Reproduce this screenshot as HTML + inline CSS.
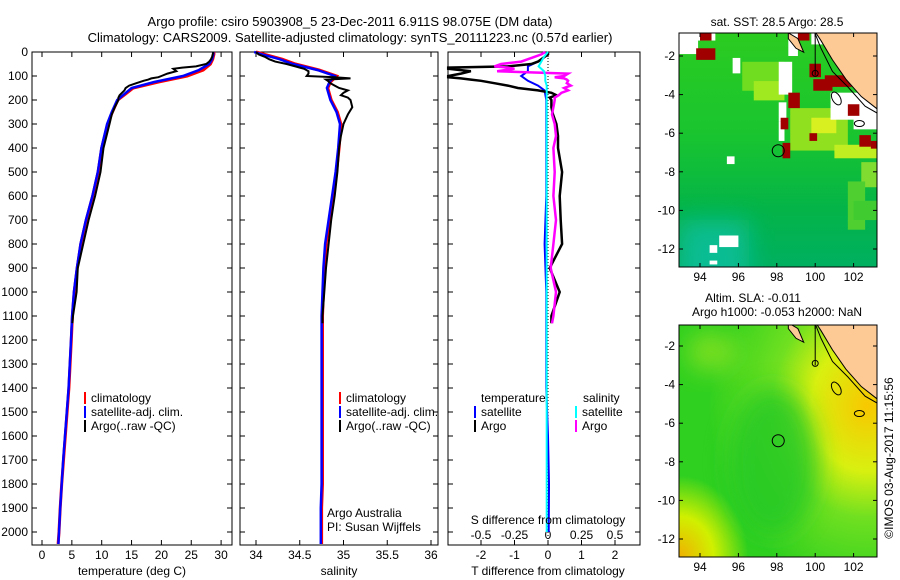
<!DOCTYPE html>
<html><head><meta charset="utf-8"><style>
body{margin:0;background:#fff;}
svg{display:block;font-family:"Liberation Sans",sans-serif;}
text{font-size:12px;fill:#000;}
</style></head><body>
<svg id="c" width="900" height="580">
<defs><filter id="blur" x="-50%" y="-50%" width="200%" height="200%"><feGaussianBlur stdDeviation="12"/></filter></defs>
<text x="350" y="26" text-anchor="middle" style="font-size:13px">Argo profile: csiro 5903908_5 23-Dec-2011 6.911S 98.075E (DM data)</text>
<text x="350" y="42" text-anchor="middle" style="font-size:13px">Climatology: CARS2009. Satellite-adjusted climatology: synTS_20111223.nc (0.57d earlier)</text>
<g id="g"></g>
<text transform="translate(893,458) rotate(-90)" text-anchor="middle">©IMOS 03-Aug-2017 11:15:56</text>
</svg>
<script>
// ---- data ----
const climDepth=[0,10,20,30,50,75,100,125,150,200,250,300,400,500,600,700,800,900,1000,1100,1200,1300,1400,1500,1600,1700,1800,1900,2000,2050];
const climT=[28.8,28.8,28.7,28.6,28.2,27,24.3,19.5,15.3,12.7,11.8,11,10,9.4,8.5,7.4,6.5,5.9,5.4,5.1,4.9,4.7,4.5,4.2,3.9,3.6,3.3,3.05,2.85,2.7];
const satT=[28.7,28.7,28.6,28.5,28.0,26.3,23.6,18.8,15.0,12.6,11.7,10.9,9.95,9.35,8.45,7.35,6.45,5.85,5.35,5.05,4.85,4.65,4.45,4.15,3.85,3.55,3.3,3.05,2.85,2.75];
const climS=[34.0,34.1,34.2,34.3,34.45,34.72,34.92,34.85,34.82,34.86,34.93,34.97,34.95,34.92,34.88,34.84,34.8,34.78,34.77,34.76,34.76,34.76,34.76,34.76,34.76,34.76,34.76,34.75,34.75,34.75];
const satS=[33.98,34.07,34.17,34.27,34.42,34.7,34.9,34.84,34.81,34.85,34.92,34.96,34.94,34.91,34.87,34.83,34.79,34.77,34.76,34.75,34.75,34.75,34.75,34.75,34.75,34.75,34.75,34.74,34.74,34.74];
const argoDepth=[0,10,20,30,40,50,60,65,70,80,90,100,105,110,115,120,130,140,150,160,170,180,190,200,230,260,300,350,400,500,600,700,800,900,1000,1100,1130];
const argoT=[28.7,28.6,28.5,28.3,28.0,27.5,25.8,23.5,22,22.5,21,20,19.5,18.3,17.8,17,15.8,14.6,14,13.8,13.4,13,12.8,12.8,12.2,11.7,11.3,10.8,10.3,9.8,8.9,7.8,6.9,6.0,5.8,5.2,5.1];
const argoS=[34.0,34.03,34.1,34.15,34.22,34.35,34.45,34.5,34.55,34.6,34.6,34.58,34.9,35.08,34.8,34.82,34.85,34.9,34.95,35.05,35.0,34.97,35.05,35.08,35.1,35.05,35.0,34.97,34.95,34.93,34.9,34.86,34.83,34.8,34.78,34.76,34.76];
const argoDT=[0,0,-0.1,-0.2,-0.3,-0.5,-1.2,-3,-3,-2.3,-2.6,-3,-3,-2.6,-2.3,-2,-1.6,-1.2,-0.9,-0.3,0.1,0.25,0.05,0.1,0.1,0.15,0.25,0.3,0.3,0.42,0.35,0.38,0.42,0.05,0.35,0.1,0.1];
const argoDS=[-0.02,-0.05,-0.1,-0.15,-0.2,-0.35,-0.4,-0.3,-0.25,-0.38,0.15,0.12,0.05,0.12,0.14,0.15,0.14,0.17,0.12,0.15,0.1,0.08,0.05,0.05,0.04,0.03,0.05,0.06,0.04,0.05,0.04,0.06,0.04,0.02,0.06,0.04,0.03];
const satDepth=[0,20,40,60,80,100,120,140,160,200,400,600,800,1000,1200,1400,1600,1800,2000];
const satDT=[0,-0.1,-0.3,-0.6,-0.6,-0.8,-0.6,-0.3,-0.1,-0.05,-0.05,-0.05,-0.1,-0.05,-0.05,-0.05,0.0,0.03,0.02];
const satDS=[0,-0.03,-0.05,-0.07,-0.03,-0.02,-0.02,-0.01,-0.01,-0.01,-0.01,-0.01,-0.01,-0.01,-0.01,-0.01,-0.01,-0.01,-0.01];
const depthTicks=[0,100,200,300,400,500,600,700,800,900,1000,1100,1200,1300,1400,1500,1600,1700,1800,1900,2000];
const tTicks=[0,5,10,15,20,25,30];
const sTicks=[34,34.5,35,35.5,36];
const dtTicks=[-2,-1,0,1,2];
const dsTicks=[-0.5,-0.25,0,0.25,0.5];
const lonTicks=[94,96,98,100,102];
const latTicks=[-2,-4,-6,-8,-10,-12];
const argoLon=98.075, argoLat=-6.911;

const NS='http://www.w3.org/2000/svg';
const G=document.getElementById('g');
function el(tag,attrs,parent){const e=document.createElementNS(NS,tag);for(const k in attrs)e.setAttribute(k,attrs[k]);(parent||G).appendChild(e);return e;}
function txt(x,y,s,anchor,parent){const t=el('text',{x:x,y:y,'text-anchor':anchor||'middle'},parent);t.textContent=s;return t;}
const yD=d=>52+d*0.24;
const xT=v=>42+v*5.97;
const xS=v=>256+(v-34)*87.5;
const xDT=v=>548+Math.max(-2.98,Math.min(2.7,v))*33.5;
const xDS=v=>548+Math.max(-0.74,Math.min(0.68,v))*134;

function panel(x0,x1,name){
  const r=el('rect',{x:x0,y:52,width:x1-x0,height:493,fill:'none',stroke:'#000','stroke-width':1});
  
  
  depthTicks.forEach(d=>{el('line',{x1:x0,x2:x0+5,y1:yD(d),y2:yD(d),stroke:'#000'});el('line',{x1:x1-5,x2:x1,y1:yD(d),y2:yD(d),stroke:'#000'});});
}
function xticks(vals,fx,y,labels){
  vals.forEach(v=>{const x=fx(v);el('line',{x1:x,x2:x,y1:52,y2:57,stroke:'#000'});el('line',{x1:x,x2:x,y1:540,y2:545,stroke:'#000'});
    if(labels){const t=txt(x,y,String(v));}});
}
function line(depths,vals,fx,color,w,name){
  const p=depths.map((d,i)=>fx(vals[i]).toFixed(1)+','+yD(d).toFixed(1)).join(' ');
  const e=el('polyline',{points:p,fill:'none',stroke:color,'stroke-width':w});
  
  
}
// panel 1
panel(32,232,'temperature-panel');
depthTicks.forEach(d=>{const t=txt(28,yD(d)+4,String(d),'end');});
xticks(tTicks,xT,559,true);
line(climDepth,climT,xT,'#f00',3,'temperature-climatology-line');
line(climDepth,satT,xT,'#00f',2.5,'temperature-satellite-line');
line(argoDepth,argoT,xT,'#000',2,'temperature-argo-line');
let t=txt(132,575,'temperature (deg C)');
// panel 2
panel(240,438,'salinity-panel');
xticks(sTicks,xS,559,true);
line(climDepth,climS,xS,'#f00',3,'salinity-climatology-line');
line(climDepth,satS,xS,'#00f',2.5,'salinity-satellite-line');
line(argoDepth,argoS,xS,'#000',2,'salinity-argo-line');
t=txt(339,575,'salinity');
t=txt(327,517,'Argo Australia','start');
t=txt(327,531,'PI: Susan Wijffels','start');
// panel 3
panel(448,640,'difference-panel');
xticks(dtTicks,xDT,559,true);
dsTicks.forEach(v=>{const t=txt(xDS(v),539,String(v));});
el('line',{x1:548,x2:548,y1:52,y2:545,stroke:'#000','stroke-dasharray':'1,2'});
line(satDepth,satDT,xDT,'#00f',2,'t-diff-satellite-line');
line(argoDepth,argoDT,xDT,'#000',2.5,'t-diff-argo-line');
line(argoDepth,argoDS,xDS,'#f0f',2.5,'s-diff-argo-line');
line(satDepth,satDS,xDS,'#0ff',2,'s-diff-satellite-line');
t=txt(548,524,'S difference from climatology');
t=txt(548,575,'T difference from climatology');
// legends
function leg(x,y,color,label,name){el('rect',{x:x,y:y-10,width:2,height:12,fill:color});const t=txt(x+7,y,label,'start');}
leg(84,402,'#f00','climatology','legend-climatology');
leg(84,416,'#00f','satellite-adj. clim.','legend-satellite');
leg(84,430,'#000','Argo(..raw -QC)','legend-argo');
leg(339,402,'#f00','climatology','legend-climatology-2');
leg(339,416,'#00f','satellite-adj. clim.','legend-satellite-2');
leg(339,430,'#000','Argo(..raw -QC)','legend-argo-2');
t=txt(481,402,'temperature','start');
t=txt(583,402,'salinity','start');
leg(474,416,'#00f','satellite','legend-t-satellite');
leg(474,430,'#000','Argo','legend-t-argo');
leg(575,416,'#0ff','satellite','legend-s-satellite');
leg(575,430,'#f0f','Argo','legend-s-argo');

// ---- maps ----
const lonX=l=>700+(l-94)*19.2;
function map(top,lat2y,isSST,name){
  const latY=la=>lat2y+(-2-la)*19.3;
  const bx=679,bw=198,bh=isSST?234:232;
  const grp=el('g',{});
  
  
  const id='cl'+top;
  const cp=el('clipPath',{id:id},grp);el('rect',{x:bx,y:top,width:bw,height:bh},cp);
  const inner=el('g',{'clip-path':'url(#'+id+')'},grp);
  const def=el('defs',{},grp);
  if(isSST){
    const lg=el('linearGradient',{id:'sstg',x1:0,y1:0,x2:0,y2:1},def);
    el('stop',{offset:'0',  'stop-color':'#2ccc20'},lg);
    el('stop',{offset:'0.45','stop-color':'#18c430'},lg);
    el('stop',{offset:'0.75','stop-color':'#04b448'},lg);
    el('stop',{offset:'1',  'stop-color':'#00b060'},lg);
    el('rect',{x:bx,y:top,width:bw,height:bh,fill:'url(#sstg)'},inner);
    el('rect',{x:bx,y:latY(-10.5),width:70,height:bh,fill:'#10c0a0',filter:'url(#blur)',opacity:0.8},inner);
    [[96.2,-2.3,2.2,1.5,'#70dd20'],[96.8,-3.3,1.6,1,'#a0e820'],[98.7,-4.7,3,2.2,'#90e020'],[99.8,-5.2,1.3,0.8,'#d8f020'],[101,-6.6,2.2,0.7,'#c0ee20'],[102.4,-7.5,0.8,1.3,'#80dc30'],[101.7,-8.5,0.9,2.5,'#50d030'],[102,-9.5,1.2,1,'#40cc30']].forEach(r=>{
      el('rect',{x:lonX(r[0]),y:latY(r[1]),width:r[2]*19.2,height:r[3]*19.3,fill:r[4]},inner);});
    [[92.9,-0.8,1,1.1],[93.8,-0.8,1,0.4],[98.6,-0.8,0.5,1.2],[99.8,-0.8,3.4,0.6],[95.7,-2.1,0.4,0.8],[98.1,-2.3,0.7,1.7],[98.1,-4.4,0.4,1],[100.8,-3.9,2.4,1.4],[102,-5.2,1.2,0.6],[98.1,-5.4,0.3,1],[95.4,-7.2,0.4,0.4],[95,-11.3,1,0.6],[94.5,-11.8,0.4,0.4],[94.5,-12.6,0.4,0.2]].forEach(r=>{
      el('rect',{x:lonX(r[0]),y:latY(r[1]),width:r[2]*19.2,height:r[3]*19.3,fill:'#fff'},inner);});
    [[94,-0.8,0.6,0.4],[93.8,-1.6,1,0.6],[98.6,-3.9,0.6,0.8],[98.2,-5.2,0.4,0.6],[98.3,-6.5,0.4,0.8],[99.7,-2.4,0.6,0.7],[99.1,-0.8,0.6,0.4],[99.9,-3.2,1,0.6],[100.5,-3,1.4,0.6],[101.7,-4.5,0.6,0.6],[102.3,-6.1,0.6,0.6],[102.9,-6.4,0.4,0.4],[99.7,-6,0.4,0.4]].forEach(r=>{
      el('rect',{x:lonX(r[0]),y:latY(r[1]),width:r[2]*19.2,height:r[3]*19.3,fill:'#a00000'},inner);});
  } else {
    const rg=el('radialGradient',{id:'slag',cx:0.95,cy:0.35,r:0.8},def);
    el('stop',{offset:'0','stop-color':'#f8c800'},rg);
    el('stop',{offset:'0.35','stop-color':'#d8f010'},rg);
    el('stop',{offset:'0.6','stop-color':'#70e020'},rg);
    el('stop',{offset:'1','stop-color':'#30d020'},rg);
    el('rect',{x:bx,y:top,width:bw,height:bh,fill:'url(#slag)'},inner);
    const rg2=el('radialGradient',{id:'slag2',cx:0,cy:1,r:0.35},def);
    el('stop',{offset:'0','stop-color':'#f0b000'},rg2);
    el('stop',{offset:'0.5','stop-color':'#d0f000'},rg2);
    el('stop',{offset:'1','stop-color':'#d0f000','stop-opacity':0},rg2);
    el('rect',{x:bx,y:top,width:bw,height:bh,fill:'url(#slag2)'},inner);
    el('ellipse',{cx:lonX(97.8),cy:latY(-8),rx:45,ry:75,fill:'#20c828',opacity:0.8,filter:'url(#blur)'},inner);
    el('ellipse',{cx:lonX(94.6),cy:latY(-2.3),rx:25,ry:20,fill:'#a8e820',opacity:0.6,filter:'url(#blur)'},inner);
  }
  // land
  const land=[[99.9,-0.6],[100.3,-1.2],[100.9,-2.2],[101.6,-3.2],[102.4,-4.1],[103.3,-4.8],[103.3,-0.6]];
  el('polygon',{points:land.map(p=>lonX(p[0])+','+latY(p[1])).join(' '),fill:'#fdc994',stroke:'#000','stroke-width':1},inner);
  el('polyline',{points:[[99.9,-0.6],[100.3,-1.6],[100.9,-2.8],[101.7,-3.6],[102.6,-4.6],[103.3,-5.0]].map(p=>lonX(p[0])+','+latY(p[1])).join(' '),fill:'none',stroke:'#000'},inner);
  el('polygon',{points:[[98.6,-0.8],[99.1,-1.1],[99.4,-1.8],[99,-1.6],[98.6,-1.1]].map(p=>lonX(p[0])+','+latY(p[1])).join(' '),fill:'#fdc994',stroke:'#000'},inner);
  el('line',{x1:lonX(100),x2:lonX(100),y1:top,y2:latY(-3),stroke:'#000'},inner);
  el('ellipse',{cx:lonX(101.1),cy:latY(-4.2),rx:4,ry:7,fill:'none',stroke:'#000',transform:'rotate(-30 '+lonX(101.1)+' '+latY(-4.2)+')'},inner);
  el('ellipse',{cx:lonX(102.3),cy:latY(-5.5),rx:5,ry:3,fill:'none',stroke:'#000'},inner);
  el('ellipse',{cx:lonX(100),cy:latY(-2.9),rx:3,ry:3,fill:'none',stroke:'#000'},inner);
  const c=el('circle',{cx:lonX(argoLon),cy:latY(argoLat),r:6,fill:'none',stroke:'#000'},grp);
  
  
  el('rect',{x:bx,y:top,width:bw,height:bh,fill:'none',stroke:'#000'},grp);
  lonTicks.forEach(l=>{const x=lonX(l);el('line',{x1:x,x2:x,y1:top,y2:top+4,stroke:'#000'},grp);el('line',{x1:x,x2:x,y1:top+bh-4,y2:top+bh,stroke:'#000'},grp);
    const t=txt(x,top+bh+14,String(l),'middle',grp);});
  latTicks.forEach(la=>{const y=latY(la);el('line',{x1:bx,x2:bx+4,y1:y,y2:y,stroke:'#000'},grp);el('line',{x1:bx+bw-4,x2:bx+bw,y1:y,y2:y,stroke:'#000'},grp);
    const t=txt(675,y+4,String(la),'end',grp);});
}
map(33,56,true,'sst-map');
map(325,346,false,'sla-map');
t=txt(777,26,'sat. SST: 28.5 Argo: 28.5');
t=txt(753,302,'Altim. SLA: -0.011');
t=txt(777,316,'Argo h1000: -0.053 h2000: NaN');
</script>
</body></html>
